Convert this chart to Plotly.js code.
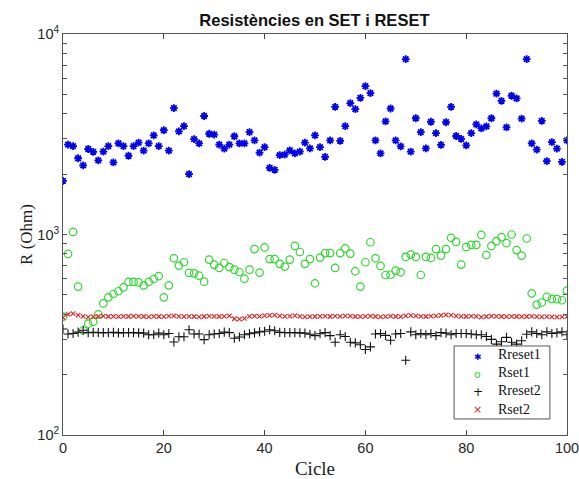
<!DOCTYPE html>
<html><head><meta charset="utf-8">
<script src="https://cdn.plot.ly/plotly-3.0.1.min.js"></script>
<style>html,body{margin:0;padding:0;background:#fff;}#chart{width:579px;height:479px;}</style>
</head><body><div id="chart"></div>
<script>
const cycles = [0,1,2,3,4,5,6,7,8,9,10,11,12,13,14,15,16,17,18,19,20,21,22,23,24,25,26,27,28,29,30,31,32,33,34,35,36,37,38,39,40,41,42,43,44,45,46,47,48,49,50,51,52,53,54,55,56,57,58,59,60,61,62,63,64,65,66,67,68,69,70,71,72,73,74,75,76,77,78,79,80,81,82,83,84,85,86,87,88,89,90,91,92,93,94,95,96,97,98,99,100];
const Rreset1 = [1850,2810,2760,2400,2210,2670,2580,2340,2590,2760,2290,2850,2760,2470,2760,2870,2620,2850,3120,2760,3310,2620,4270,3270,3470,2000,2990,2850,3900,3180,3150,2810,2680,2810,3090,2850,2850,3240,2950,2560,2730,2150,2100,2490,2500,2630,2540,2590,2870,2690,3120,2730,2440,2950,4330,2930,3470,4520,4220,4800,5500,5070,2950,2540,3670,4250,2950,2750,7500,2590,3800,3240,2690,3650,3200,2800,3630,4330,3100,3000,2780,3200,3540,3380,3460,3800,5040,4640,3420,4920,4770,3780,7500,2850,2650,3690,2320,2890,2680,2300,2950];
const Rset1 = [389,800,1030,550,332,359,367,400,453,486,505,521,545,580,580,577,558,580,600,620,486,558,761,700,727,644,640,623,582,750,708,681,721,688,668,650,602,668,846,646,862,754,754,714,692,750,877,818,714,754,571,767,807,807,681,807,852,803,656,550,727,915,761,697,628,630,660,648,773,794,773,628,773,764,846,785,846,963,918,708,867,887,887,995,790,877,926,970,905,1000,836,785,955,509,447,458,488,477,476,470,525];
const Rreset2 = [338,319,321,326,333,324,325,324,324,324,325,323,324,324,324,323,322,316,316,322,316,321,291,309,309,335,319,319,299,316,319,321,326,324,304,308,316,320,323,327,329,335,331,325,324,324,324,323,322,318,313,320,324,313,290,316,310,290,288,282,267,275,319,321,314,297,319,321,236,327,316,321,316,321,313,324,322,316,321,321,321,319,316,316,310,300,284,292,307,290,284,295,318,327,321,316,327,321,323,327,316];
const Rset2 = [385,400,403,396,391,387,389,390,392,390,391,389,391,390,392,391,390,388,391,390,389,392,393,391,389,391,390,388,390,392,391,390,391,393,380,378,382,391,392,391,394,395,396,393,391,392,394,391,388,389,390,391,392,390,392,391,393,392,390,389,391,392,390,388,389,392,390,389,393,395,393,391,390,392,393,395,397,396,393,391,390,392,391,387,390,392,391,390,389,391,390,389,390,391,389,388,389,388,387,388,389];
const seriesNames = ['Rreset1','Rset1','Rreset2','Rset2'];
const seriesColors = ['#0000ee','#33d633','#111111','#dd2222'];
const legendGlyphs = ['✱','o','+','×'];
const xTicks = [0,20,40,60,80,100];
const yTickVals = [100,200,300,400,500,600,700,800,900,1000,2000,3000,4000,5000,6000,7000,8000,9000,10000];
const yTickText = ['10<sup>2</sup>','','','','','','','','','10<sup>3</sup>','','','','','','','','','10<sup>4</sup>'];

const traces = [
  {x: cycles, y: Rreset1, name: seriesNames[0], mode: 'markers', type: 'scatter',
   marker: {symbol: 'asterisk-open', size: 6.5, color: seriesColors[0], line: {color: seriesColors[0], width: 1.8}}},
  {x: cycles, y: Rset1, name: seriesNames[1], mode: 'markers', type: 'scatter',
   marker: {symbol: 'circle-open', size: 7.5, color: seriesColors[1], line: {color: seriesColors[1], width: 1.2}}},
  {x: cycles, y: Rreset2, name: seriesNames[2], mode: 'markers', type: 'scatter',
   marker: {symbol: 'cross-thin-open', size: 6.5, color: seriesColors[2], line: {color: seriesColors[2], width: 1.1}}},
  {x: cycles, y: Rset2, name: seriesNames[3], mode: 'markers', type: 'scatter',
   marker: {symbol: 'x-thin-open', size: 4.5, color: seriesColors[3], line: {color: seriesColors[3], width: 1.1}}}
];

// compact MATLAB-style legend built from annotations
const legX0 = 0.776, legX1 = 0.966, legY0 = 0.040, legY1 = 0.222;
const legRowY = [0.195, 0.152, 0.108, 0.064];
const glyphSizes = [9, 11, 12, 11];
const glyphFamilies = ['DejaVu Sans, sans-serif', 'DejaVu Sans, sans-serif', 'DejaVu Sans, sans-serif', 'DejaVu Sans, sans-serif'];
const annotations = [];
seriesNames.forEach((nm, i) => {
  annotations.push({xref: 'paper', yref: 'paper', x: 0.823, y: legRowY[i], xanchor: 'center', yanchor: 'middle',
    text: legendGlyphs[i], showarrow: false, borderpad: 0,
    font: {family: glyphFamilies[i], size: glyphSizes[i], color: seriesColors[i]}});
});
annotations.push({xref: 'paper', yref: 'paper', x: 0.860, y: 0.131, xanchor: 'left', yanchor: 'middle',
  text: seriesNames.join('<br>'), showarrow: false, align: 'left',
  font: {family: 'Liberation Serif, Times New Roman, serif', size: 14, color: '#111'}});

const axisFont = {family: 'Liberation Sans, Arial, sans-serif', size: 14.5, color: '#262626'};
const layout = {
  width: 579, height: 479,
  margin: {l: 63, r: 12, t: 34, b: 44, pad: 0},
  paper_bgcolor: '#ffffff', plot_bgcolor: '#ffffff',
  showlegend: false,
  title: {text: '<b>Resistències en SET i RESET</b>', x: 0.543, xanchor: 'center', y: 0.958, yanchor: 'middle',
          font: {family: 'Liberation Sans, Arial, sans-serif', size: 16.5, color: '#111'}},
  xaxis: {range: [0, 100], tickvals: xTicks, ticktext: xTicks.map(String), ticklabeloverflow: 'allow',
          ticks: 'inside', ticklen: 5, tickcolor: '#444', mirror: 'ticks',
          showline: true, linecolor: '#555', linewidth: 1, showgrid: false, zeroline: false,
          tickfont: axisFont,
          title: {text: 'Cicle', font: {family: 'Liberation Serif, Times New Roman, serif', size: 19, color: '#222'}, standoff: 6}},
  yaxis: {type: 'log', range: [2, 4], tickvals: yTickVals, ticktext: yTickText,
          ticks: 'inside', ticklen: 4, tickcolor: '#555', mirror: 'ticks',
          showline: true, linecolor: '#555', linewidth: 1, showgrid: false, zeroline: false,
          tickfont: axisFont,
          title: {text: 'R (Ohm)', font: {family: 'Liberation Serif, Times New Roman, serif', size: 17, color: '#222'}, standoff: 0}},
  shapes: [{type: 'rect', xref: 'paper', yref: 'paper', x0: legX0, x1: legX1, y0: legY0, y1: legY1,
            line: {color: '#555', width: 1}, fillcolor: '#ffffff', layer: 'above'}],
  annotations: annotations
};

Plotly.newPlot('chart', traces, layout, {displayModeBar: false, staticPlot: true});
</script></body></html>
